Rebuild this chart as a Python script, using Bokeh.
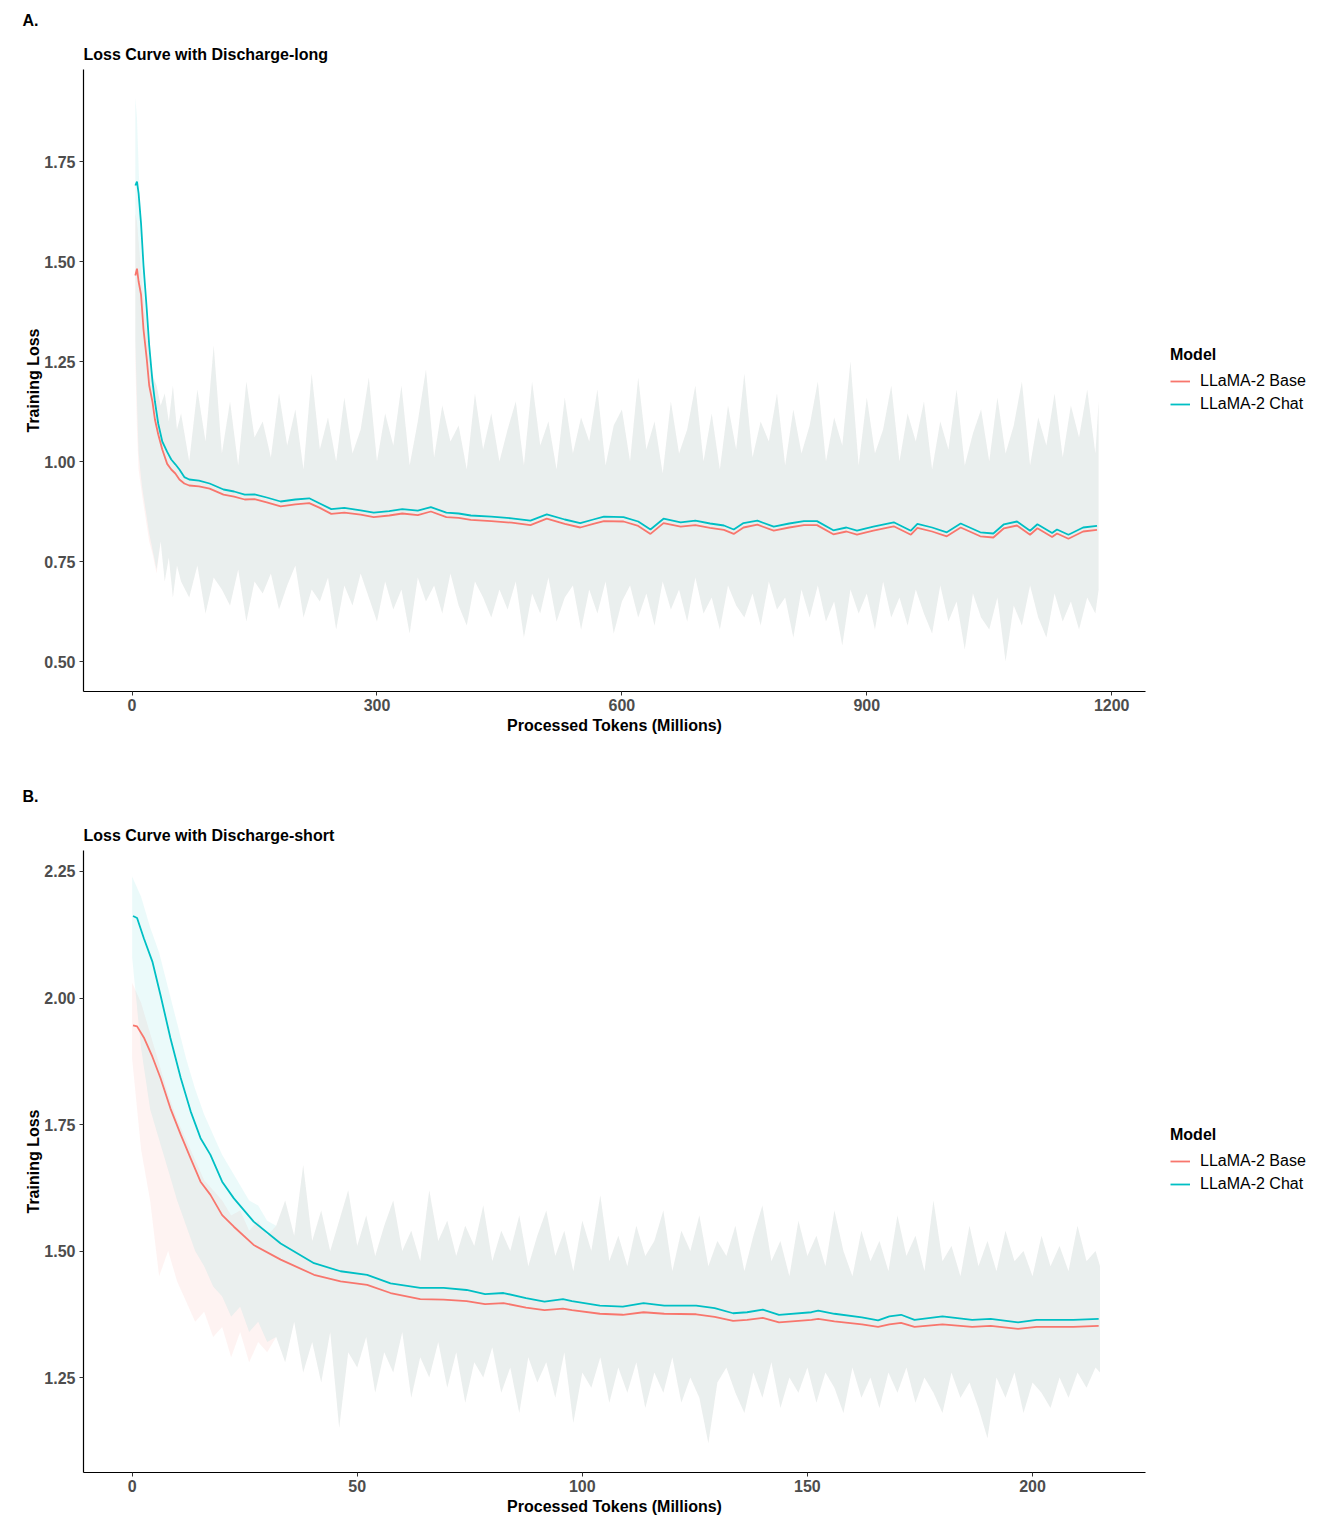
from bokeh.plotting import figure
from bokeh.models import Range1d, Legend, LegendItem, Title, FixedTicker, NumeralTickFormatter
from bokeh.layouts import column, row
from bokeh.embed import file_html
from bokeh.resources import INLINE

# ---------------- Panel A data (Discharge-long) ----------------
line_x_A = [4, 6, 8, 11, 14, 18, 21, 25, 28, 32, 37, 43, 48, 53, 58, 64, 70, 82, 95, 112,
            125, 138, 150, 165, 182, 200, 217, 230, 244, 260, 280, 296, 315, 331, 350, 366, 385, 400, 415, 440,
            465, 488, 508, 530, 549, 565, 578, 602, 620, 635, 651, 672, 690, 708, 725, 737, 749, 766, 786, 805,
            823, 839, 859, 875, 888, 908, 933, 954, 962, 980, 998, 1015, 1039, 1055, 1068, 1084, 1100, 1109, 1127, 1133,
            1147, 1165, 1182]
chat_A = [1.69, 1.70, 1.67, 1.595, 1.49, 1.38, 1.29, 1.20, 1.15, 1.095,
          1.05, 1.024, 1.005, 0.993, 0.98, 0.961, 0.955, 0.952, 0.945, 0.93,
          0.925, 0.917, 0.918, 0.91, 0.90, 0.905, 0.908, 0.895, 0.881, 0.884,
          0.878, 0.872, 0.876, 0.881, 0.877, 0.886, 0.872, 0.87, 0.865, 0.862,
          0.858, 0.852, 0.868, 0.855, 0.846, 0.855, 0.862, 0.861, 0.85, 0.83,
          0.857, 0.848, 0.852, 0.845, 0.84, 0.83, 0.846, 0.852, 0.837, 0.845,
          0.851, 0.851, 0.828, 0.835, 0.827, 0.837, 0.848, 0.827, 0.844, 0.835,
          0.823, 0.845, 0.823, 0.82, 0.843, 0.85, 0.827, 0.843, 0.821, 0.83,
          0.817, 0.835, 0.839]
base_A = [1.465, 1.482, 1.45, 1.417, 1.33, 1.256, 1.19, 1.149, 1.105, 1.068,
          1.03, 0.994, 0.98, 0.97, 0.955, 0.945, 0.94, 0.938, 0.932, 0.917,
          0.912, 0.905, 0.906, 0.898, 0.888, 0.893, 0.896, 0.884, 0.869, 0.872,
          0.867, 0.861, 0.865, 0.870, 0.866, 0.875, 0.861, 0.859, 0.854, 0.851,
          0.847, 0.841, 0.857, 0.844, 0.835, 0.844, 0.851, 0.850, 0.839, 0.819,
          0.846, 0.837, 0.841, 0.834, 0.829, 0.819, 0.835, 0.842, 0.827, 0.835,
          0.841, 0.841, 0.818, 0.825, 0.817, 0.827, 0.838, 0.817, 0.834, 0.825,
          0.813, 0.835, 0.813, 0.810, 0.833, 0.840, 0.817, 0.833, 0.811, 0.820,
          0.807, 0.825, 0.829]

band_x_A = [4, 6, 8, 10, 12, 15, 18, 21, 25, 30, 35, 40, 45, 50, 55] + list(range(60, 1181, 10)) + [1184]
chat_hi_A_early = [1.91, 1.86, 1.74, 1.62, 1.52, 1.42, 1.36, 1.28, 1.22, 1.19, 1.14, 1.17, 1.10, 1.19, 1.08]
base_hi_A_early = [1.62, 1.60, 1.55, 1.50, 1.45, 1.38, 1.33, 1.26, 1.21, 1.19, 1.14, 1.17, 1.10, 1.19, 1.08]
chat_lo_A_early = [1.30, 1.15, 1.02, 0.98, 0.94, 0.90, 0.86, 0.82, 0.78, 0.73, 0.80, 0.70, 0.76, 0.66, 0.74]
base_lo_A_early = [1.25, 1.08, 0.98, 0.95, 0.92, 0.88, 0.84, 0.80, 0.77, 0.72, 0.80, 0.70, 0.76, 0.66, 0.74]
hi_A_tail = [1.12, 1.00, 1.18, 1.05, 1.29, 1.02, 1.15, 0.99, 1.20, 1.06,
             1.10, 1.01, 1.17, 1.04, 1.13, 0.98, 1.22, 1.03, 1.11, 1.00,
             1.16, 1.02, 1.08, 1.21, 1.00, 1.12, 1.04, 1.19, 0.99, 1.10,
             1.23, 1.01, 1.14, 1.05, 1.09, 0.98, 1.17, 1.03, 1.12, 1.00,
             1.08, 1.15, 0.99, 1.20, 1.04, 1.10, 0.98, 1.16, 1.02, 1.11,
             1.05, 1.18, 0.99, 1.09, 1.13, 1.00, 1.21, 1.03, 1.10, 0.97,
             1.15, 1.02, 1.08, 1.19, 1.00, 1.12, 0.98, 1.14, 1.03, 1.22,
             1.01, 1.10, 1.05, 1.17, 0.99, 1.13, 1.02, 1.09, 1.20, 1.00,
             1.11, 1.04, 1.25, 0.99, 1.16, 1.02, 1.08, 1.19, 1.00, 1.12,
             1.05, 1.15, 0.98, 1.10, 1.03, 1.18, 0.99, 1.07, 1.13, 1.00,
             1.16, 1.02, 1.09, 1.20, 0.99, 1.11, 1.04, 1.17, 1.01, 1.14,
             1.06, 1.18, 1.02, 1.15]
lo_A_tail = [0.70, 0.66, 0.74, 0.62, 0.71, 0.68, 0.64, 0.73, 0.60, 0.70,
             0.67, 0.72, 0.63, 0.69, 0.74, 0.61, 0.68, 0.65, 0.71, 0.58,
             0.69, 0.64, 0.72, 0.66, 0.60, 0.70, 0.63, 0.68, 0.57, 0.71,
             0.65, 0.69, 0.62, 0.72, 0.64, 0.59, 0.70, 0.66, 0.61, 0.68,
             0.63, 0.70, 0.56, 0.67, 0.62, 0.71, 0.60, 0.66, 0.69, 0.58,
             0.68, 0.62, 0.70, 0.57, 0.65, 0.69, 0.61, 0.67, 0.59, 0.70,
             0.63, 0.68, 0.60, 0.71, 0.62, 0.66, 0.58, 0.69, 0.64, 0.61,
             0.67, 0.59, 0.70, 0.63, 0.66, 0.56, 0.68, 0.61, 0.69, 0.60,
             0.65, 0.54, 0.68, 0.62, 0.67, 0.58, 0.70, 0.61, 0.66, 0.59,
             0.68, 0.62, 0.57, 0.69, 0.60, 0.65, 0.53, 0.67, 0.61, 0.58,
             0.66, 0.50, 0.64, 0.59, 0.69, 0.61, 0.56, 0.67, 0.60, 0.65,
             0.58, 0.66, 0.62, 0.68]
chat_hi_A = chat_hi_A_early + hi_A_tail
base_hi_A = base_hi_A_early + hi_A_tail
chat_lo_A = chat_lo_A_early + lo_A_tail
base_lo_A = base_lo_A_early + lo_A_tail

# ---------------- Panel B data (Discharge-short) ----------------
line_x_B = [0.2, 1.1, 2.6, 4.5, 6.3, 8.5, 10.8, 13, 15.2, 17.4,
            20, 22.6, 27, 33, 40.4, 46.3, 52.2, 57.4, 64, 69.2,
            74.3, 78.4, 82.5, 87.5, 91.6, 95.7, 97.7, 103.9, 109, 113.6,
            118.2, 125.3, 129.4, 133.5, 136.6, 140.1, 143.7, 150.9, 152.4, 156,
            162.1, 165.7, 168.2, 170.8, 173.8, 180, 186.6, 190.7, 196.8, 200.9,
            209.1, 214.7]
chat_B = [2.162, 2.158, 2.118, 2.072, 2.006, 1.921, 1.842, 1.776, 1.723, 1.69,
          1.637, 1.604, 1.558, 1.515, 1.476, 1.46, 1.453, 1.436, 1.427, 1.427,
          1.423, 1.415, 1.417, 1.407, 1.40, 1.405, 1.401, 1.392, 1.39, 1.397,
          1.392, 1.392, 1.387, 1.377, 1.379, 1.384, 1.374, 1.379, 1.382, 1.376,
          1.369, 1.363, 1.371, 1.374, 1.364, 1.371, 1.364, 1.366, 1.359, 1.364,
          1.364, 1.366]
base_B = [1.946, 1.944, 1.922, 1.884, 1.842, 1.782, 1.73, 1.683, 1.637, 1.611,
          1.571, 1.548, 1.512, 1.483, 1.453, 1.44, 1.433, 1.417, 1.405, 1.404,
          1.401, 1.395, 1.397, 1.388, 1.383, 1.386, 1.383, 1.376, 1.374, 1.379,
          1.376, 1.375, 1.37, 1.362, 1.364, 1.368, 1.359, 1.364, 1.366, 1.361,
          1.355, 1.35, 1.355, 1.358, 1.35, 1.355, 1.35, 1.352, 1.346, 1.35,
          1.35, 1.352]

band_x_B = list(range(0, 215, 2)) + [215]
chat_hi_B_early = [2.24, 2.20, 2.14, 2.09, 2.02, 1.95, 1.88, 1.82, 1.77, 1.73, 1.69, 1.66, 1.63, 1.60, 1.59, 1.56]
chat_lo_B_early = [2.08, 1.90, 1.78, 1.72, 1.66, 1.60, 1.55, 1.50, 1.47, 1.43, 1.41, 1.37, 1.39, 1.34, 1.36, 1.32]
base_hi_B_early = [2.03, 1.99, 1.93, 1.87, 1.81, 1.76, 1.72, 1.68, 1.64, 1.62, 1.60, 1.57, 1.58, 1.54, 1.56, 1.53]
base_lo_B_early = [1.88, 1.70, 1.60, 1.45, 1.50, 1.44, 1.40, 1.36, 1.38, 1.33, 1.35, 1.29, 1.34, 1.28, 1.32, 1.30]
hi_B_tail = [1.55, 1.60, 1.53, 1.67, 1.52, 1.58, 1.50, 1.56, 1.62, 1.51,
             1.57, 1.49, 1.55, 1.60, 1.50, 1.54, 1.48, 1.62, 1.52, 1.56,
             1.49, 1.55, 1.51, 1.59, 1.48, 1.54, 1.50, 1.57, 1.47, 1.53,
             1.58, 1.49, 1.54, 1.46, 1.56, 1.50, 1.61, 1.48, 1.53, 1.47,
             1.55, 1.49, 1.52, 1.58, 1.46, 1.54, 1.50, 1.57, 1.47, 1.52,
             1.49, 1.55, 1.46, 1.53, 1.59, 1.48, 1.52, 1.45, 1.56, 1.49,
             1.53, 1.47, 1.58, 1.50, 1.45, 1.54, 1.48, 1.52, 1.46, 1.57,
             1.49, 1.53, 1.46, 1.60, 1.48, 1.51, 1.45, 1.55, 1.47, 1.52,
             1.46, 1.54, 1.48, 1.50, 1.45, 1.53, 1.47, 1.51, 1.46, 1.55,
             1.48, 1.50, 1.47]
lo_B_tail = [1.33, 1.28, 1.36, 1.26, 1.32, 1.24, 1.34, 1.15, 1.30, 1.27,
             1.33, 1.22, 1.30, 1.26, 1.34, 1.21, 1.29, 1.25, 1.32, 1.23,
             1.30, 1.20, 1.28, 1.25, 1.31, 1.22, 1.27, 1.18, 1.29, 1.24,
             1.28, 1.21, 1.30, 1.16, 1.26, 1.23, 1.29, 1.20, 1.27, 1.22,
             1.28, 1.19, 1.26, 1.22, 1.29, 1.20, 1.25, 1.21, 1.12, 1.24,
             1.27, 1.22, 1.18, 1.26, 1.21, 1.28, 1.19, 1.25, 1.22, 1.27,
             1.20, 1.26, 1.23, 1.18, 1.27, 1.21, 1.25, 1.19, 1.26, 1.22,
             1.27, 1.20, 1.25, 1.22, 1.18, 1.26, 1.21, 1.24, 1.19, 1.13,
             1.25, 1.21, 1.26, 1.18, 1.24, 1.22, 1.19, 1.25, 1.21, 1.26,
             1.23, 1.27, 1.26]
chat_hi_B = chat_hi_B_early + hi_B_tail
base_hi_B = base_hi_B_early + hi_B_tail
chat_lo_B = chat_lo_B_early + lo_B_tail
base_lo_B = base_lo_B_early + lo_B_tail

x_ticks_A = [0, 300, 600, 900, 1200]
y_ticks_A = [0.5, 0.75, 1.0, 1.25, 1.5, 1.75]
x_ticks_B = [0, 50, 100, 150, 200]
y_ticks_B = [1.25, 1.5, 1.75, 2.0, 2.25]
labels = ["LLaMA-2 Base", "LLaMA-2 Chat"]
colors = ["#F8766D", "#00BFC4"]

FONT = "Liberation Sans"
MAIN_W = 1150
LEG_W = 162


def make_panel(letter, title, xr, yr, xt, yt, bx, b_lo, b_hi, c_lo, c_hi,
               lx, l_base, l_chat, height, btop, bbottom, letter_standoff):
    p = figure(width=MAIN_W, height=height, x_range=Range1d(*xr), y_range=Range1d(*yr),
               output_backend="svg", toolbar_location=None,
               min_border_left=83, min_border_right=5,
               min_border_top=btop, min_border_bottom=bbottom)
    p.outline_line_color = None
    p.xgrid.visible = False
    p.ygrid.visible = False
    p.background_fill_color = "white"

    p.varea(x=bx, y1=b_lo, y2=b_hi, fill_color=colors[0], fill_alpha=0.09)
    p.varea(x=bx, y1=c_lo, y2=c_hi, fill_color=colors[1], fill_alpha=0.08)
    p.line(lx, l_base, line_color=colors[0], line_width=1.8)
    p.line(lx, l_chat, line_color=colors[1], line_width=1.8)

    # panel letter (outermost title) and panel title (next to the frame)
    p.title.text = letter
    p.title.text_font = FONT
    p.title.text_font_size = "16px"
    p.title.text_font_style = "bold"
    p.title.text_color = "black"
    p.title.align = "left"
    p.title.offset = -61
    p.title.standoff = letter_standoff
    p.add_layout(Title(text=title, align="left", text_font=FONT,
                       text_font_size="16px", text_font_style="bold", text_color="black",
                       standoff=13), "above")

    for ax in (p.xaxis[0], p.yaxis[0]):
        ax.axis_line_color = "black"
        ax.axis_line_width = 1.2
        ax.major_tick_line_color = "#333333"
        ax.major_tick_out = 4
        ax.major_tick_in = 0
        ax.minor_tick_line_color = None
        ax.major_label_text_font = FONT
        ax.major_label_text_font_size = "16px"
        ax.major_label_text_font_style = "bold"
        ax.major_label_text_color = "#4D4D4D"
        ax.axis_label_text_font = FONT
        ax.axis_label_text_font_size = "16px"
        ax.axis_label_text_font_style = "bold"
        ax.axis_label_text_color = "black"
    p.xaxis.ticker = FixedTicker(ticks=xt)
    p.yaxis.ticker = FixedTicker(ticks=yt)
    p.yaxis.formatter = NumeralTickFormatter(format="0.00")
    p.xaxis.axis_label = "Processed Tokens (Millions)"
    p.yaxis.axis_label = "Training Loss"
    p.xaxis.major_label_standoff = 3
    p.xaxis.axis_label_standoff = 3
    p.yaxis.major_label_standoff = 4
    p.yaxis.axis_label_standoff = -1
    return p


def make_legend(height, legend_y):
    q = figure(width=LEG_W, height=height, output_backend="svg", toolbar_location=None,
               x_axis_location=None, y_axis_location=None, min_border=0,
               x_range=Range1d(0, 1), y_range=Range1d(0, 1))
    q.outline_line_color = None
    q.xgrid.visible = False
    q.ygrid.visible = False
    nan = float("nan")
    rb = q.line(x=[nan, nan], y=[nan, nan], line_color=colors[0], line_width=1.8)
    rc = q.line(x=[nan, nan], y=[nan, nan], line_color=colors[1], line_width=1.8)
    legend = Legend(items=[LegendItem(label=labels[0], renderers=[rb]),
                           LegendItem(label=labels[1], renderers=[rc])],
                    location=(20, legend_y), title="Model",
                    title_text_font=FONT, title_text_font_size="16px",
                    title_text_font_style="bold", title_text_color="black", title_standoff=7,
                    label_text_font=FONT, label_text_font_size="16px", label_text_color="black",
                    label_height=20, glyph_height=20, glyph_width=20,
                    label_standoff=10, spacing=3, padding=0, margin=0,
                    border_line_alpha=0, background_fill_alpha=0)
    q.add_layout(legend)
    return q


pA = make_panel("A.", "Loss Curve with Discharge-long", (-59.5, 1241.4), (0.425, 1.98),
                x_ticks_A, y_ticks_A, band_x_A, base_lo_A, base_hi_A, chat_lo_A, chat_hi_A,
                line_x_A, base_A, chat_A, 760, 69, 69, 18)
pB = make_panel("B.", "Loss Curve with Discharge-short", (-10.8, 225.1), (1.0623, 2.2915),
                x_ticks_B, y_ticks_B, band_x_B, base_lo_B, base_hi_B, chat_lo_B, chat_hi_B,
                line_x_B, base_B, chat_B, 760, 90, 48, 27)
lA = make_legend(760, 277)
lB = make_legend(760, 278)

layout = column(row(pA, lA, spacing=0), row(pB, lB, spacing=0), spacing=0)
open("out.html", "w").write(file_html(layout, INLINE))
